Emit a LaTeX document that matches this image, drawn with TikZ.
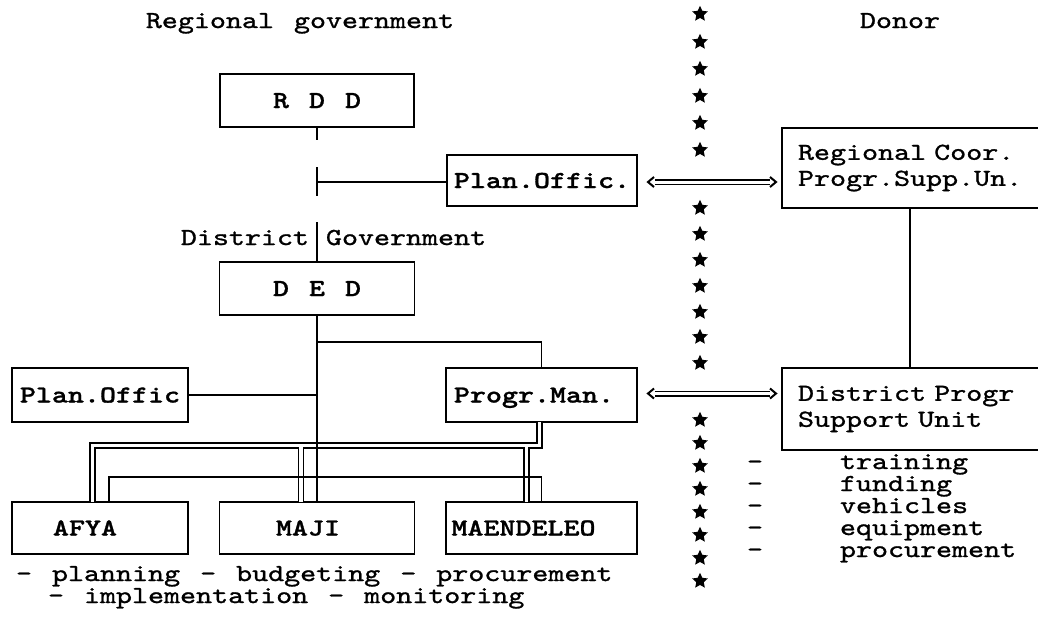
\documentclass[tikz,border=0pt]{standalone}
\usepackage{fontspec}
\setmonofont{lmmono10-regular.otf}[BoldFont=lmmonolt10-bold.otf, FakeStretch=1.25, FakeBold=1.1, WordSpace=1.25]
\usetikzlibrary{shapes.geometric}
\begin{document}
\begin{tikzpicture}[x=1pt,y=-1pt,
  every node/.style={inner sep=0pt, outer sep=0pt},
  txt/.style={font=\ttfamily\fontsize{24.4}{26}\selectfont},
  box/.style={draw, line width=1.4pt, minimum width=#1, minimum height=53pt,
     font=\ttfamily\bfseries\fontsize{24.4}{26}\selectfont, text height=15pt, text depth=0pt},
  rbox/.style={draw, line width=1.4pt, anchor=north west, text width=250pt, inner xsep=16pt,
     align=left, font=\ttfamily\fontsize{24.4}{26}\selectfont},
  ln/.style={line width=1.4pt},
  dbl/.style={line width=1.3pt, double, double distance=3.6pt},
  dbla/.style={line width=1.5pt, double, double distance=3pt},
  chev/.style={line width=2pt},
  starmk/.style={star, star points=5, star point ratio=2.1, fill=black, draw=none, minimum size=16.5pt}
]
\useasboundingbox (0,0) rectangle (1038,622);
\clip (0,0) rectangle (1038,622);
\fill[white] (0,0) rectangle (1038,622);

% titles
\node[txt, anchor=base] (tg) at (300,28) {Regional government};
\node[txt, anchor=base] (td) at (900,28) {Donor};
\node[txt, anchor=base east] (tdis) at (309,245) {District};
\node[txt, anchor=base west] (tgov) at (326,245) {Government};

% boxes, left part
\node[box=194] (rdd) at (317,100.5) {R D D};
\node[box=190, minimum height=51pt] (po1) at (542,180.5) {Plan.Offic.};
\node[box=195] (ded) at (317,288.5) {D E D};
\node[box=176, minimum height=54pt] (po2) at (100,395) {Plan.Offic};
\node[box=191, minimum height=54pt] (pm) at (541.5,395) {Progr.Man.\hspace*{15pt}};
\node[box=176, minimum height=52pt] (afya) at (100,528) {AFYA\hspace*{30pt}};
\node[box=195, minimum height=52pt] (maji) at (317,528) {MAJI\hspace*{18pt}};
\node[box=191, minimum height=52pt] (maen) at (541.5,528) {MAENDELEO\hspace*{36pt}};

% boxes, donor part
\node[rbox, minimum height=80pt] (rc) at (782,128) {Regional Coor.\\Progr.Supp.Un.};
\node[rbox, minimum height=82pt] (dp) at (782,368) {District Progr\\Support Unit};

% helper coordinates
\coordinate (stub) at (317,140);
\coordinate (tk1) at (317,167);
\coordinate (tk2) at (317,196);
\coordinate (tkm) at (317,182);
\coordinate (dgt) at (317,222);
\coordinate (br) at (317,342);

% single connectors
\draw[ln] (rdd.south) -- (stub);
\draw[ln] (tk1) -- (tk2);
\draw[ln] (tkm) -- (tkm -| po1.west);
\draw[ln] (dgt) -- (ded.north);
\draw[ln] (br) -| (pm.north);
\draw[ln] (po2.east) -- (po2.east -| ded.south);
\draw[ln] (rc.south -| 910,0) -- (dp.north -| 910,0);

% double connectors from Progr.Man.
\draw[dbl] ([xshift=-2pt]pm.south) -- ++(0,23.5) -| ([xshift=-7.5pt]afya.north);
\draw[dbl] ([xshift=-16pt,yshift=54.6pt]maji.north) -- ([xshift=-16pt]maji.north);
\draw[dbl] ([xshift=-15pt,yshift=54.6pt]maen.north) -- ([xshift=-15pt]maen.north);
% AFYA -- MAENDELEO
\draw[ln] ([xshift=9pt]afya.north) |- ([yshift=25pt]maen.north) -- (maen.north);
% DED -- MAJI
\draw[ln] (ded.south) -- (maji.north);

% arrows
\coordinate (a1l) at ([yshift=-1.5pt]po1.east);
\coordinate (a1r) at (a1l -| rc.west);
\draw[dbla] ([xshift=18pt]a1l) -- ([xshift=-12pt]a1r);
\draw[chev] ([xshift=17pt,yshift=5pt]a1l) -- ([xshift=11pt]a1l) -- ([xshift=17pt,yshift=-5pt]a1l);
\draw[chev] ([xshift=-12pt,yshift=5pt]a1r) -- ([xshift=-6pt]a1r) -- ([xshift=-12pt,yshift=-5pt]a1r);

\coordinate (a2l) at ([yshift=1.5pt]pm.east);
\coordinate (a2r) at (a2l -| dp.west);
\draw[dbla] ([xshift=18pt]a2l) -- ([xshift=-12pt]a2r);
\draw[chev] ([xshift=17pt,yshift=5pt]a2l) -- ([xshift=11pt]a2l) -- ([xshift=17pt,yshift=-5pt]a2l);
\draw[chev] ([xshift=-12pt,yshift=5pt]a2r) -- ([xshift=-6pt]a2r) -- ([xshift=-12pt,yshift=-5pt]a2r);

% stars
\foreach \y [count=\i] in {14,42,69,96,123,150,208,234,260,286,312,337,363,420,443,466,489,512,535,558,581}
  \node[starmk] (s\i) at (700,\y) {};

% lists
\node[txt, anchor=base west] (b1) at (16,581) {- planning - budgeting - procurement};
\node[txt, anchor=base west] (b2) at (48,603) {- implementation - monitoring};
\foreach \y/\w [count=\i] in {469/training, 491/funding, 513/vehicles, 535/equipment, 557/procurement} {
  \node[txt, anchor=base] (ld\i) at (755,\y) {-};
  \node[txt, anchor=base west] (lw\i) at (840,\y) {\w};
}
\end{tikzpicture}
\end{document}
